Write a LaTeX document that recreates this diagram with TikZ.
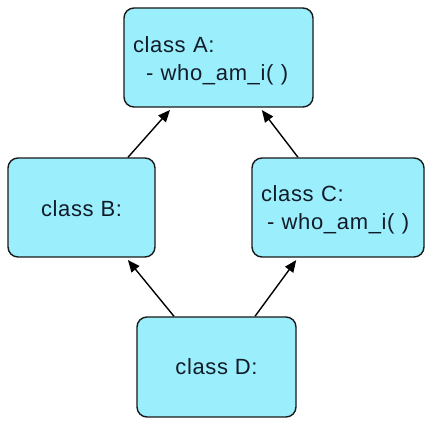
\documentclass[tikz,border=0pt]{standalone}
\usepackage{fontspec}
\setmainfont{Liberation Sans}[LetterSpace=3]
\usetikzlibrary{arrows.meta}
\definecolor{boxfill}{RGB}{155,238,252}
\definecolor{boxline}{RGB}{25,25,25}
\definecolor{txt}{RGB}{18,28,40}
\begin{document}
\begin{tikzpicture}[x=1pt,y=-1pt,
  classbox/.style={draw=boxline, fill=boxfill, line width=1.4pt, rounded corners=10pt,
    inner ysep=0pt, inner xsep=9pt, text=txt, font=\fontsize{22}{28}\selectfont},
  inherit/.style={draw=black, line width=1.4pt, -{Triangle[length=12pt,width=10pt]}, shorten >=3pt}]
\useasboundingbox (0,0) rectangle (448,425);
\node[classbox, minimum height=99pt, text width=171pt, align=left, text height=20pt, text depth=29pt]
  (A) at (218.5,57.5) {class A:\\\hspace*{13pt}- who\_am\_i( )};
\node[classbox, minimum height=99pt, minimum width=147pt, text height=18pt, text depth=0pt]
  (B) at (81.5,207.5) {class B:};
\node[classbox, minimum height=99pt, text width=154pt, align=left, text height=20pt, text depth=31pt]
  (C) at (338,207.5) {class C:\\\hspace*{6pt}- who\_am\_i( )};
\node[classbox, minimum height=100pt, minimum width=159pt, text height=16pt, text depth=0pt]
  (D) at (216.5,367) {class D:};
\draw[inherit] ([xshift=46.5pt]B.north) -- ([xshift=-46.5pt]A.south);
\draw[inherit] ([xshift=-40pt]C.north) -- ([xshift=41.5pt]A.south);
\draw[inherit] ([xshift=-42.5pt]D.north) -- ([xshift=44.5pt]B.south);
\draw[inherit] ([xshift=38.5pt]D.north) -- ([xshift=-40pt]C.south);
\end{tikzpicture}
\end{document}
